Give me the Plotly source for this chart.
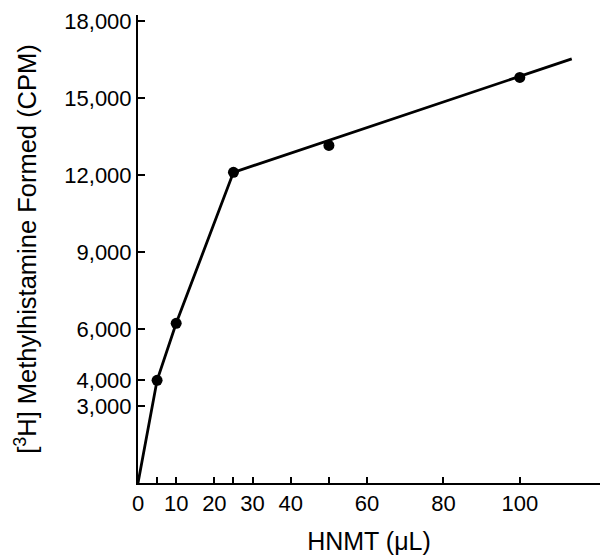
import plotly.graph_objects as go

# Measured data points
hnmt_ul = [5, 10, 25, 50, 100]
cpm = [4000, 6220, 12100, 13150, 15800]

# Drawn curve (polyline through origin, then fitted line beyond 25 uL)
line_x = [0, 5, 10, 25, 113.6]
line_y = [0, 4000, 6220, 12100, 16520]

x_tickvals = [0, 10, 20, 30, 40, 60, 80, 100]
x_ticktext = ["0", "10", "20", "30", "40", "60", "80", "100"]
x_minor_ticks = [5, 25, 50]
y_tickvals = [3000, 4000, 6000, 9000, 12000, 15000, 18000]
y_ticktext = ["3,000", "4,000", "6,000", "9,000", "12,000", "15,000", "18,000"]

FONT = "Liberation Sans, Arial, Helvetica, sans-serif"

fig = go.Figure()
fig.add_trace(go.Scatter(x=line_x, y=line_y, mode="lines",
                         line=dict(color="black", width=2.8),
                         showlegend=False, hoverinfo="skip"))
fig.add_trace(go.Scatter(x=hnmt_ul, y=cpm, mode="markers",
                         marker=dict(color="black", size=11),
                         showlegend=False))

fig.update_layout(
    width=604, height=555,
    margin=dict(l=138, r=4, t=15, b=72),
    paper_bgcolor="white", plot_bgcolor="white",
    font=dict(family=FONT, color="black", size=22),
    xaxis=dict(range=[0, 121], tickvals=x_tickvals, ticktext=x_ticktext,
               ticks="inside", ticklen=6, tickwidth=2, tickcolor="black",
               minor=dict(tickvals=x_minor_ticks, ticks="inside", ticklen=6,
                          tickwidth=2, tickcolor="black", showgrid=False),
               showline=True, linecolor="black", linewidth=2,
               showgrid=False, zeroline=False,
               tickfont=dict(size=22, family=FONT),
               title=dict(text="HNMT (μL)", font=dict(size=25, family=FONT), standoff=18)),
    yaxis=dict(range=[0, 18230], tickvals=y_tickvals, ticktext=y_ticktext,
               ticks="inside", ticklen=7, tickwidth=2, tickcolor="black",
               showline=True, linecolor="black", linewidth=2,
               showgrid=False, zeroline=False,
               tickfont=dict(size=22, family=FONT),
               title=dict(text="[<sup>3</sup>H] Methylhistamine Formed (CPM)",
                          font=dict(size=25.5, family=FONT), standoff=20)),
)

fig.write_html("out.html")
